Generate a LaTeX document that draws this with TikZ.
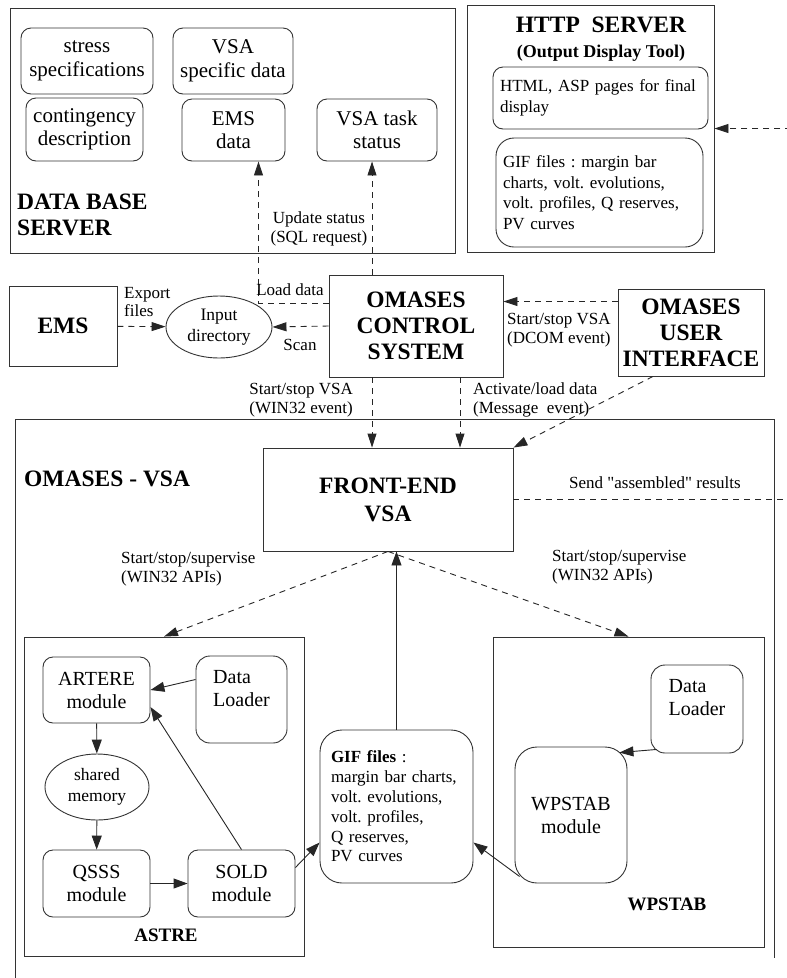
\documentclass[tikz,border=0pt]{standalone}
\usepackage{fontspec}
\setmainfont{Liberation Serif}[Ligatures=TeXOff]
\usetikzlibrary{arrows.meta,shapes.geometric}

\tikzset{
  boxline/.style={draw=black!80, line width=0.9pt, inner sep=0pt},
  rbox/.style={boxline, rounded corners=10pt, align=center},
  dbtxt/.style={font=\fontsize{21}{23.5}\selectfont},
  modtxt/.style={font=\fontsize{20}{23}\selectfont},
  smalltxt/.style={font=\fontsize{17}{20.5}\selectfont},
  lbl/.style={font=\fontsize{17}{18.5}\selectfont, inner sep=0pt},
  bighead/.style={font=\fontsize{23.5}{26}\selectfont\bfseries, inner sep=0pt},
  midhead/.style={font=\fontsize{19}{22}\selectfont\bfseries, inner sep=0pt},
  solidarrow/.style={draw=black!85, line width=0.9pt, -{Triangle[length=14pt,width=10pt]}},
  dasharrow/.style={solidarrow, dash pattern=on 6pt off 5pt, -{Triangle[length=14pt,width=9pt]}},
}

\begin{document}
\frenchspacing
\begin{tikzpicture}[x=1pt,y=-1pt]
\useasboundingbox (0,0) rectangle (787,978);
\clip (0,0) rectangle (787,978);

\node[boxline, minimum width=445pt, minimum height=245pt] (dbserver) at (232.5,130.5) {};
\node[rbox, dbtxt, minimum width=132pt, minimum height=66pt] (stress) at (87,61) {stress\\specifications};
\node[rbox, dbtxt, minimum width=117pt, minimum height=63pt] (contingency) at (84.5,129.5) {contingency\\description};
\node[rbox, dbtxt, minimum width=120pt, minimum height=66pt] (vsaspecific) at (233,61) {VSA\\specific data};
\node[rbox, dbtxt, minimum width=103pt, minimum height=62pt] (emsdata) at (233.5,130) {EMS\\data};
\node[rbox, dbtxt, minimum width=120pt, minimum height=62pt] (taskstatus) at (377,130) {VSA task\\status};
\node[bighead, anchor=west, align=left] (dbtitle) at (17,215) {DATA BASE\\SERVER};

\node[boxline, minimum width=247pt, minimum height=247pt] (http) at (590.5,128.5) {};
\node[bighead] (httptitle) at (601,25) {HTTP\ \ SERVER};
\node[font=\fontsize{18}{20}\selectfont\bfseries, inner sep=0pt] (httpsub) at (601,53) {(Output Display Tool)};
\node[rbox, smalltxt, align=left, inner xsep=7pt, text width=201pt, minimum height=62pt] (htmlpages) at (600.5,98) {HTML, ASP pages for final\\display};
\node[rbox, smalltxt, align=left, inner xsep=7pt, text width=193pt, minimum height=109pt, rounded corners=18pt] (httpgif) at (599.5,192.5) {GIF files : margin bar\\charts, volt. evolutions,\\volt. profiles, Q reserves,\\PV curves};

\node[boxline, bighead, minimum width=108pt, minimum height=80pt] (ems) at (63,326) {EMS};
\node[ellipse, boxline, font=\fontsize{17.5}{21}\selectfont, align=center, minimum width=106pt, minimum height=62pt] (inputdir) at (219,327) {Input\\directory};
\node[boxline, bighead, align=center, minimum width=174pt, minimum height=102pt] (control) at (416,326) {OMASES\\CONTROL\\SYSTEM};
\node[boxline, bighead, align=center, minimum width=146pt, minimum height=87pt] (userif) at (691,332.5) {OMASES\\USER\\INTERFACE};

\draw[dasharrow] (ems) -- (inputdir);
\node[lbl, anchor=west, align=left] (exportlbl) at (124,302) {Export\\files};
\draw[dasharrow] (control.west) -- (inputdir.east);
\node[lbl] (scanlbl) at (300,345) {Scan};
\draw[dasharrow] ([yshift=23pt]control.west) -| ([xshift=25pt]emsdata.south);
\node[lbl] (loadlbl) at (290,290) {Load data};
\draw[dasharrow] ([xshift=-44pt]control.north) -- ([xshift=-44pt]control.north |- taskstatus.south);
\node[lbl, align=center] (updatelbl) at (319,229) {Update status\\(SQL request)};
\draw[dasharrow] ([yshift=31pt]userif.west) -- ([yshift=31pt]userif.west -| control.east);
\node[lbl, anchor=west, align=left] (dcomlbl) at (507,330) {Start/stop VSA\\(DCOM event)};

\draw[boxline] (15,990) -- (15,419) -- (774,419) -- (774,958);
\node[bighead, anchor=west] (vsatitle) at (24,479) {OMASES - VSA};

\node[boxline, bighead, font=\fontsize{23.5}{28}\selectfont\bfseries, align=center, minimum width=250pt, minimum height=103pt] (frontend) at (388,499.5) {FRONT-END\\VSA};
\draw[dasharrow] ([xshift=-44pt]control.south) -- ([xshift=-44pt]control.south |- frontend.north);
\draw[dasharrow] ([xshift=44pt]control.south) -- ([xshift=44pt]control.south |- frontend.north);
\node[lbl, anchor=east, align=left] (win32lbl) at (353,400) {Start/stop VSA\\(WIN32 event)};
\node[lbl, anchor=west, align=left] (activatelbl) at (473,400) {Activate/load data\\(Message\ \ event)};
\draw[dasharrow] ([xshift=-38pt]userif.south) -- (frontend.north east);

\draw[dasharrow] (frontend.east) -- ++(300,0) |- (http.east);
\node[lbl] (sendlbl) at (655,483) {Send "assembled" results};

\node[lbl, anchor=west, align=left] (superleft) at (121,569) {Start/stop/supervise\\(WIN32 APIs)};
\node[lbl, anchor=west, align=left] (superright) at (552,567) {Start/stop/supervise\\(WIN32 APIs)};

\node[boxline, minimum width=280pt, minimum height=319pt] (astre) at (164,796.5) {};
\node[boxline, minimum width=271pt, minimum height=310pt] (wpstab) at (628.5,792) {};
\draw[dasharrow] (frontend.south) -- (astre.north);
\draw[dasharrow] (frontend.south) -- (wpstab.north);

\node[rbox, font=\fontsize{17}{19.8}\selectfont, align=left, inner xsep=11pt, text width=131pt, minimum height=153pt, rounded corners=22pt] (giffiles) at (396.5,806.5) {\textbf{GIF files} :\\margin bar charts,\\volt. evolutions,\\volt. profiles,\\Q reserves,\\PV curves};
\draw[solidarrow] (giffiles.north) -- (giffiles.north |- frontend.south);

\node[rbox, modtxt, minimum width=107pt, minimum height=66pt] (artere) at (96.5,690) {ARTERE\\module};
\node[rbox, modtxt, align=left, minimum width=91pt, minimum height=87pt, rounded corners=14pt] (astreloader) at (241.5,699.5) {Data\\Loader\\\mbox{}};
\node[ellipse, boxline, font=\fontsize{17.5}{21}\selectfont, align=center, minimum width=104pt, minimum height=66pt] (sharedmem) at (97,787) {shared\\memory};
\node[rbox, modtxt, minimum width=107pt, minimum height=67pt] (qsss) at (96.5,883.5) {QSSS\\module};
\node[rbox, modtxt, minimum width=107pt, minimum height=67pt] (sold) at (241.5,883.5) {SOLD\\module};
\node[midhead] (astrelbl) at (166,935) {ASTRE};
\draw[solidarrow] ([yshift=20pt]astreloader.west) -- (artere.east);
\draw[solidarrow] (artere) -- (sharedmem);
\draw[solidarrow] (sharedmem) -- (qsss);
\draw[solidarrow] (qsss) -- (sold);
\draw[solidarrow] (sold.north) -- ([yshift=-17pt]artere.east);
\draw[solidarrow] ([yshift=16pt]sold.east) -- ([yshift=-36pt]giffiles.west);

\node[rbox, modtxt, align=left, minimum width=92pt, minimum height=88pt, rounded corners=14pt] (wploader) at (697,709) {Data\\Loader\\\mbox{}};
\node[rbox, modtxt, minimum width=112pt, minimum height=136pt, rounded corners=22pt] (wpmodule) at (571,815) {WPSTAB\\module};
\node[midhead] (wpstablbl) at (667,904) {WPSTAB};
\draw[solidarrow] ([shift={(6pt,4pt)}]wploader.south west) -- ([shift={(-8pt,-6pt)}]wpmodule.north east);
\draw[solidarrow] ([shift={(5pt,7pt)}]wpmodule.south west) -- ([yshift=-36pt]giffiles.east);
\end{tikzpicture}
\end{document}
